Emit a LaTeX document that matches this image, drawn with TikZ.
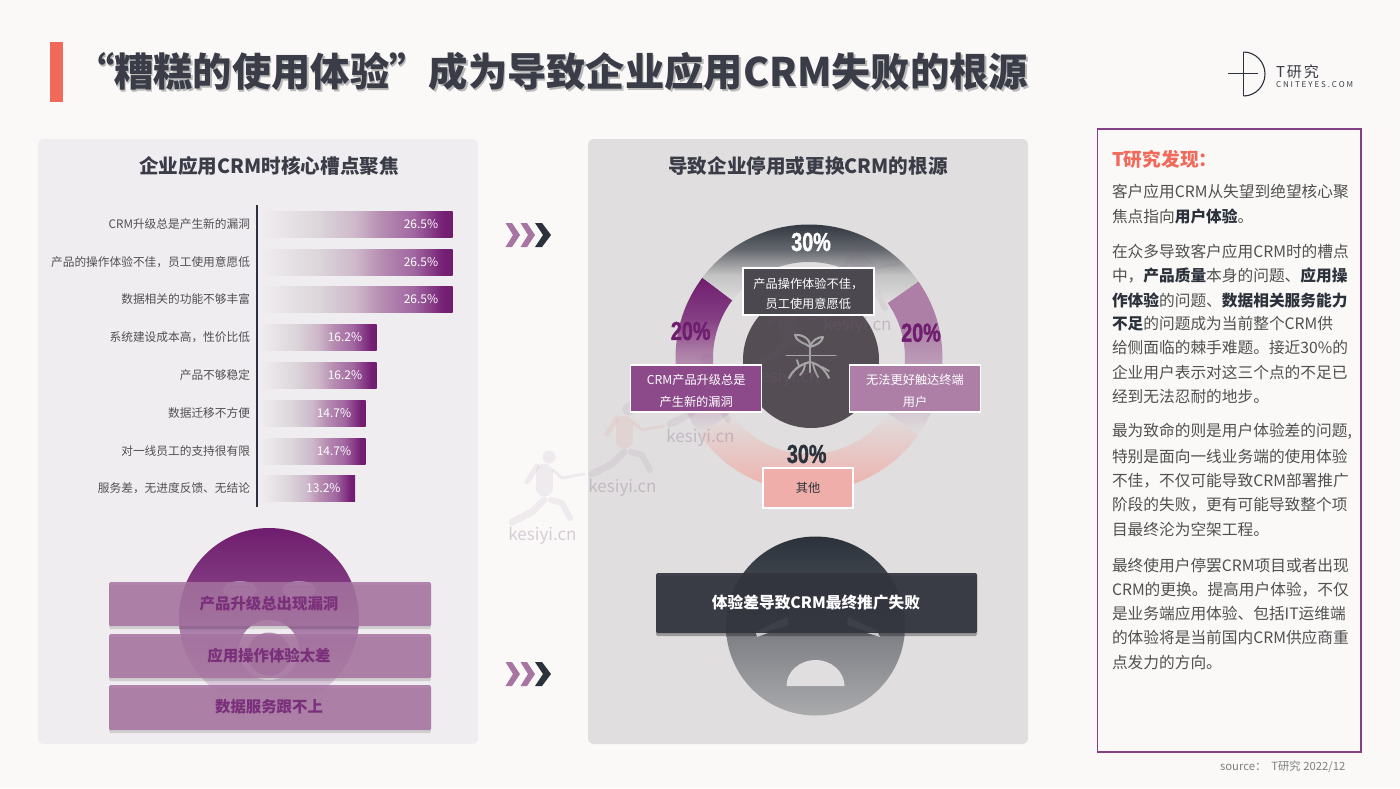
\documentclass[tikz,border=0pt]{standalone}
\usepackage{fontspec}
\setmainfont{Noto Sans CJK SC}
\newfontfamily\impf{Liberation Sans}[BoldFeatures={FakeBold=1.6}]
\newcommand\fsz[1]{\fontsize{#1}{#1}\selectfont}
\definecolor{pageb}{HTML}{FAF9F8}
\definecolor{pnlL}{HTML}{F0EDF1}
\definecolor{pnlM}{HTML}{E0DEDE}
\definecolor{plum}{HTML}{6F1D6E}
\definecolor{mauve}{HTML}{AD7FA7}
\definecolor{inkd}{HTML}{3A3D47}
\definecolor{inkk}{HTML}{2C323B}
\definecolor{redb}{HTML}{F0695A}
\definecolor{pinkb}{HTML}{EFAEA9}
\definecolor{greyt}{HTML}{505050}
\definecolor{wm}{HTML}{7A5A80}
\definecolor{hub}{HTML}{544E54}
\definecolor{bara}{HTML}{DCD6DA}
\definecolor{barb}{HTML}{CDB7CA}
\definecolor{barc}{HTML}{B88FB3}
\definecolor{bard}{HTML}{A066A0}
\definecolor{bare}{HTML}{761F75}
\definecolor{boxt}{HTML}{4B494F}
\definecolor{boxm}{HTML}{33353F}
\definecolor{eyed}{HTML}{3D3F49}
\definecolor{eyet}{HTML}{C8C6C8}
\pgfdeclarehorizontalshading{barshade}{100bp}{color(0bp)=(pnlL); color(25bp)=(pnlL); color(40bp)=(bara); color(50bp)=(barb); color(56bp)=(barc); color(65bp)=(bard); color(72.5bp)=(bare); color(75bp)=(plum); color(100bp)=(plum)}
\pgfdeclareverticalshading{ringtop}{100bp}{color(0bp)=(pnlM); color(25bp)=(pnlM); color(42bp)=(pnlM!70!black!60); color(58bp)=(inkk!70!pnlM); color(75bp)=(inkk); color(100bp)=(inkk)}
\pgfdeclareverticalshading{ringleft}{100bp}{color(0bp)=(pnlM); color(25bp)=(pnlM); color(38bp)=(pnlM!50!mauve); color(51bp)=(mauve); color(62bp)=(plum!85!white); color(75bp)=(plum); color(100bp)=(plum)}
\pgfdeclareverticalshading{ringright}{100bp}{color(0bp)=(pnlM); color(25bp)=(pnlM); color(45bp)=(pnlM!40!mauve); color(60bp)=(mauve); color(75bp)=(mauve); color(100bp)=(mauve)}
\pgfdeclareverticalshading{ringbot}{100bp}{color(0bp)=(pinkb); color(25bp)=(pinkb); color(75bp)=(pnlM); color(100bp)=(pnlM)}
\pgfdeclareverticalshading{faceL}{100bp}{color(0bp)=(pnlL); color(25bp)=(pnlL); color(45bp)=(plum!50!pnlL); color(60bp)=(plum!88!white); color(75bp)=(plum); color(100bp)=(plum)}
\pgfdeclareverticalshading{faceM}{100bp}{color(0bp)=(pnlM!70!inkk); color(25bp)=(pnlM!70!inkk); color(48bp)=(inkk!55!pnlM); color(62bp)=(inkk!90!white); color(75bp)=(inkk); color(100bp)=(inkk)}
\tikzset{
  txt/.style={inner sep=0pt,outer sep=0pt,font=\fsz{11.7}},
  panel/.style={rounded corners=5pt,draw=none},
  lbox/.style={draw=white,line width=1.4pt,inner sep=0pt,minimum height=47pt,minimum width=131pt,align=center,text=white,font=\fsz{12.2}},
  stripbox/.style={rounded corners=1.5pt,fill=#1},
  bodyl/.style={txt,anchor=west,text=greyt,font=\fsz{15.7}},
  chev/.style={fill=#1,draw=none},
  pct/.style={txt,font=\impf\bfseries\fsz{26},xscale=.76,transform shape},
  wmt/.style={txt,text=wm,opacity=.28,font=\fsz{17}}
}
\newcommand\barrow[5]{%
  \path[shading=barshade] (260,#2-13) rectangle (#3,#2+13);
  \node[txt,anchor=east,text=greyt] (#1l) at (250,#2) {#4};
  \node[txt,anchor=east,text=white,font=\fsz{12}] (#1v) at (#3-14.5,#2) {#5};
}
\newcommand\chevs[1]{%
  \begin{scope}[yshift=-#1]
  \fill[chev=mauve!90!plum] (505.5,-12)--(512,-12)--(520,0)--(512,12)--(505.5,12)--(513,0)--cycle;
  \fill[chev=mauve!90!plum] (520.5,-12)--(527,-12)--(535,0)--(527,12)--(520.5,12)--(528,0)--cycle;
  \fill[chev=inkk] (535,-12)--(542,-12)--(551,0)--(542,12)--(535,12)--(543,0)--cycle;
  \end{scope}}
\newcommand\wmark[3]{%
  \begin{scope}[shift={(#1,#2)}]
  \begin{scope}[opacity=.09,draw=wm,fill=wm,line cap=round,line join=round]
  \fill (549,457) circle (6.5);
  \draw[line width=17pt,draw=#3] (544,472)--(544,488);
  \draw[line width=5pt,draw=#3] (537,466)--(527,482);
  \draw[line width=3pt,draw=#3] (553,470)--(562,478)--(584,474);
  \draw[line width=7pt] (544,500)--(532,512)--(512,522);
  \draw[line width=6pt] (551,500)--(562,503)--(570,518);
  \end{scope}
  \node[wmt] (wm#1) at (542.5,536) {kesiyi.cn};
  \end{scope}}
\begin{document}
\begin{tikzpicture}[x=1pt,y=-1pt]
\useasboundingbox (0,0) rectangle (1400,788);
\fill[pageb] (0,0) rectangle (1400,788);
% title
\fill[redb] (50,42) rectangle (62.5,102);
\node[txt,anchor=west,text=gray!55,font=\bfseries\fsz{39.3}] (titleshadow) at (76.5,73.5) {“糟糕的使用体验”成为导致企业应用CRM失败的根源};
\node[txt,anchor=west,text=inkd,font=\bfseries\fsz{39.3}] (title) at (75,72) {“糟糕的使用体验”成为导致企业应用CRM失败的根源};
% logo
\draw[inkk,line width=1.1pt] (1243.5,52) -- (1243.5,96);
\draw[inkk,line width=1.1pt] (1243.5,52) arc (-90:90:21.5 and 22);
\draw[inkk,line width=1.1pt] (1228,73.5) -- (1258,73.5);
\node[txt,anchor=west,text=inkd,font=\fsz{15}\addfontfeature{LetterSpace=13}] (logoa) at (1276,72) {T研究};
\node[txt,anchor=west,text=inkd,font=\fsz{8}\addfontfeature{LetterSpace=24}] (logob) at (1276,85) {CNITEYES.COM};
% panels
\fill[panel,pnlL] (38,139) rectangle (478,744);
\fill[panel,pnlM] (588,139) rectangle (1028,744);
\node[txt,text=inkd,font=\bfseries\fsz{19.6}] (ltitle) at (269,166) {企业应用CRM时核心槽点聚焦};
\node[txt,text=inkd,font=\bfseries\fsz{19.6}] (mtitle) at (808,166) {导致企业停用或更换CRM的根源};
% bars
\barrow{ba}{224}{452.7}{CRM升级总是产生新的漏洞}{26.5\%}
\barrow{bb}{262}{452.7}{产品的操作体验不佳，员工使用意愿低}{26.5\%}
\barrow{bc}{299}{452.7}{数据相关的功能不够丰富}{26.5\%}
\barrow{bd}{337}{376.7}{系统建设成本高，性价比低}{16.2\%}
\barrow{be}{375}{376.7}{产品不够稳定}{16.2\%}
\barrow{bf}{413}{365.7}{数据迁移不方便}{14.7\%}
\barrow{bg}{451}{365.7}{对一线员工的支持很有限}{14.7\%}
\barrow{bh}{488}{355}{服务差，无进度反馈、无结论}{13.2\%}
\draw[inkk,line width=1.6pt] (257,205) -- (257,507);
% left face
\path[shading=faceL] (269,618) circle (90);
\fill[pnlL] (269,650) circle (30);
\fill[plum!45!pnlL] (269,654) circle (21.5);
\fill[pnlL,opacity=.4] (240,590) ellipse (17 and 9);
\fill[pnlL,opacity=.4] (299,590) ellipse (17 and 9);
\foreach \ya/\yb in {582/626,634/678,685/730}{
  \fill[black,opacity=.13,rounded corners=1.5pt] (109,\ya+3) rectangle (431,\yb+3);
  \fill[stripbox={mauve!88!plum},opacity=.86] (109,\ya) rectangle (431,\yb);
}
\node[txt,text=plum!92!white,font=\bfseries\fsz{15.4}] (la) at (269,604) {产品升级总出现漏洞};
\node[txt,text=plum!92!white,font=\bfseries\fsz{15.4}] (lb) at (269,656) {应用操作体验太差};
\node[txt,text=plum!92!white,font=\bfseries\fsz{15.4}] (lc) at (269,707) {数据服务跟不上};
% ring
\begin{scope}[shift={(809,358)},y=1pt]
  \path[shading=ringbot] (215:133.5) arc (215:325:133.5) -- (325:96) arc (325:215:96) -- cycle;
  \path[shading=ringleft] (143:133.5) arc (143:215:133.5) -- (215:96) arc (215:143:96) -- cycle;
  \path[shading=ringright] (35:133.5) arc (35:-35:133.5) -- (-35:96) arc (-35:35:96) -- cycle;
  \path[shading=ringtop] (35:133.5) arc (35:143:133.5) -- (143:96) arc (143:35:96) -- cycle;
\end{scope}
\fill[hub] (811,360) circle (68);
% sprout
\begin{scope}[draw=gray!70!white,line cap=round,line join=round]
  \draw[line width=1pt] (786,355) -- (836,355);
  \draw[line width=2pt] (810,347) -- (810,372);
  \draw[line width=2pt] (810,347) .. controls (806,343) and (797,343) .. (795,335) .. controls (802,334) and (811,339) .. (810,347);
  \draw[line width=2pt] (810,347) .. controls (812,340) and (818,337) .. (823,337) .. controls (822,342) and (817,345) .. (810,347);
  \draw[line width=2.2pt] (810,362) .. controls (802,364) and (794,368) .. (789,378);
  \draw[line width=1.8pt] (799,366) -- (797,360);
  \draw[line width=2pt] (810,362) .. controls (818,364) and (824,368) .. (829,378);
  \draw[line width=1.8pt] (822,367) -- (829,371);
  \draw[line width=1.8pt] (805,363) .. controls (805,368) and (803,372) .. (800,375);
  \draw[line width=1.8pt] (813,364) .. controls (814,369) and (816,373) .. (818,377);
\end{scope}
% watermarks
\wmark{0}{0}{wm}
\wmark{80}{-48}{redb}
\wmark{158}{-98}{wm}
\wmark{243}{-158}{wm}
\wmark{315}{-210}{wm}
% ring labels
\node[lbox,fill=boxt] (rt) at (808.3,291.5) {\rule{0pt}{15pt}产品操作体验不佳，\\[8.5pt]员工使用意愿低};
\node[lbox,fill=plum!80!white] (rl) at (696.2,388.5) {\rule{0pt}{15pt}CRM产品升级总是\\[9.5pt]产生新的漏洞};
\node[lbox,fill=mauve] (rr) at (915,388.5) {\rule{0pt}{15pt}无法更好触达终端\\[9.5pt]用户};
\node[draw=white,line width=1.4pt,fill=pinkb,minimum width=90pt,minimum height=40pt,inner sep=0pt,text=inkk,font=\fsz{12.2}] (rb) at (808,488) {\raisebox{-3pt}{其他}};
\node[pct,text=white] (pa) at (811,242) {30\%};
\node[pct,text=plum] (pb) at (690.7,331) {20\%};
\node[pct,text=plum] (pc) at (921,332.7) {20\%};
\node[pct,text=inkk] (pd) at (806.7,454) {30\%};
% mid face
\path[shading=faceM] (815.5,626) circle (89.5);
\fill[pnlM] (786.5,686) arc (180:360:29 and 26) -- cycle;
\fill[black,opacity=.3,rounded corners=1.5pt] (656,576) rectangle (977,636);
\fill[boxm,opacity=.93,rounded corners=1.5pt] (656,573) rectangle (977,633);
\fill[eyed] (755,632) -- (787,617) -- (789,625) -- (762,633) -- cycle;
\fill[eyed] (848,617) -- (878,631) -- (872,633) -- (847,625) -- cycle;
\fill[eyet] (756,633) -- (768,633) -- (757,637) -- cycle;
\fill[eyet] (867,633) -- (878,633) -- (880,637) -- cycle;
\node[txt,text=white,font=\bfseries\fsz{15.7}] (mbox) at (816,603) {体验差导致CRM最终推广失败};
% chevrons
\chevs{235pt}
\chevs{674pt}
% right box
\draw[draw=plum!85!white,line width=1.5pt,fill=pageb] (1097.5,129) rectangle (1361,752);
\node[txt,anchor=west,text=redb,font=\bfseries\fsz{18.7}] (fh) at (1112,159.3) {T研究发现：};
\node[bodyl] (t1) at (1112,191.7) {客户应用CRM从失望到绝望核心聚};
\node[bodyl] (t2) at (1112,216) {焦点指向{\bfseries\color{inkk}用户体验}。};
\node[bodyl] (t3) at (1112,251.7) {在众多导致客户应用CRM时的槽点};
\node[bodyl] (t4) at (1112,275.7) {中，{\bfseries\color{inkk}产品质量}本身的问题、{\bfseries\color{inkk}应用操}};
\node[bodyl] (t5) at (1112,300) {{\bfseries\color{inkk}作体验}的问题、{\bfseries\color{inkk}数据相关服务能力}};
\node[bodyl] (t6) at (1112,324) {{\bfseries\color{inkk}不足}的问题成为当前整个CRM供};
\node[bodyl] (t7) at (1112,348) {给侧面临的棘手难题。接近30\%的};
\node[bodyl] (t8) at (1112,372.7) {企业用户表示对这三个点的不足已};
\node[bodyl] (t9) at (1112,396.7) {经到无法忍耐的地步。};
\node[bodyl] (t10) at (1112,431.7) {最为致命的则是用户体验差的问题,};
\node[bodyl] (t11) at (1112,456.7) {特别是面向一线业务端的使用体验};
\node[bodyl] (t12) at (1112,480.7) {不佳，不仅可能导致CRM部署推广};
\node[bodyl] (t13) at (1112,505) {阶段的失败，更有可能导致整个项};
\node[bodyl] (t14) at (1112,529.3) {目最终沦为空架工程。};
\node[bodyl] (t15) at (1112,566) {最终使用户停罢CRM项目或者出现};
\node[bodyl] (t16) at (1112,590) {CRM的更换。提高用户体验，不仅};
\node[bodyl] (t17) at (1112,614) {是业务端应用体验、包括IT运维端};
\node[bodyl] (t18) at (1112,638) {的体验将是当前国内CRM供应商重};
\node[bodyl] (t19) at (1112,662.7) {点发力的方向。};
\node[txt,anchor=west,text=gray,font=\fsz{11.3}] (src) at (1220,767) {source：\ \ T研究 2022/12};
\end{tikzpicture}
\end{document}
